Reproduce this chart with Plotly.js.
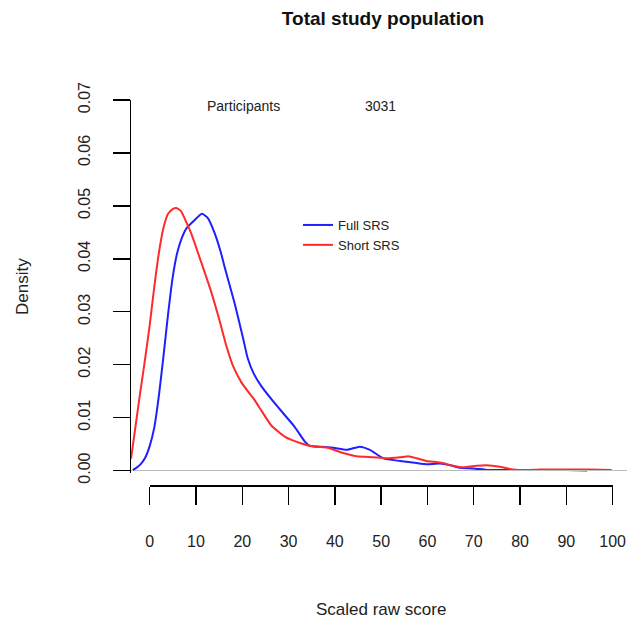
<!DOCTYPE html>
<html>
<head>
<meta charset="utf-8">
<script src="https://cdn.plot.ly/plotly-3.0.1.min.js"></script>
<style>html,body{margin:0;padding:0;background:#fff;}#chart{width:627px;height:621px;}</style>
</head>
<body>
<div id="chart"></div>
<script>
// ---- data ----
const fullX = [-3.6,-3,-2,-1,0,1,2,3,4,5,6,7,8,9.6,11.3,12.6,14.0,15.4,16.2,18.4,20.2,21.2,22.5,24.1,27.7,31.3,33.5,34.5,36.8,39.7,42.6,45.4,47.6,50.5,54.1,57.7,59.8,62.7,64.9,67.0,69.9,72.8,76,80,85,90,94.5];
const fullY = [0.0001,0.0004,0.0011,0.0023,0.0045,0.0080,0.0140,0.0215,0.0295,0.0365,0.0412,0.0440,0.0458,0.0472,0.0485,0.0477,0.0450,0.0412,0.0385,0.0315,0.0250,0.0212,0.0183,0.0160,0.0120,0.0083,0.0055,0.0047,0.0045,0.0043,0.0039,0.0045,0.0039,0.0023,0.0018,0.0014,0.0012,0.0013,0.0010,0.0005,0.0004,0.0001,0.0001,0.0001,0.0001,0.0001,0.0000];

const shortX = [-4,-3,-2,-1,0,1,2,3,4,5,5.8,6.8,8.1,9.0,11.1,13.3,15.0,16.5,18.0,19.8,21.2,22.7,24.1,26.3,29.2,32.8,35.6,38.5,41.8,44.7,48.3,51.2,54.1,55.9,57.7,59.8,62.7,65.6,67.7,70.6,72.8,75.7,78.5,81.4,84.3,90,95.1,99.8];
const shortY = [0.0022,0.0085,0.0148,0.0208,0.0272,0.0345,0.0410,0.0458,0.0485,0.0494,0.0496,0.0490,0.0466,0.0448,0.0395,0.0338,0.0287,0.0238,0.0198,0.0167,0.0150,0.0133,0.0114,0.0085,0.0064,0.0051,0.0045,0.0043,0.0033,0.0027,0.0025,0.0023,0.0025,0.0027,0.0023,0.0018,0.0015,0.0009,0.0006,0.0009,0.0010,0.0007,0.0002,0.0001,0.0002,0.0002,0.0002,0.0001];

const seriesNames = ["Full SRS", "Short SRS"];
const xTicks = [0,10,20,30,40,50,60,70,80,90,100];
const yTicks = [0,0.01,0.02,0.03,0.04,0.05,0.06,0.07];
const titleText = "Total study population";
const xTitle = "Scaled raw score";
const yTitle = "Density";
const infoLabel = "Participants";
const infoValue = "3031";

// ---- layout geometry ----
const W = 627, H = 621;
const mL = 131, mR = 0, mT = 100, mB = 136;
const pw = W - mL - mR, ph = H - mT - mB;
const px = v => (v - mL) / pw;          // page px -> paper x
const py = v => (H - mB - v) / ph;      // page px -> paper y
const FONT = "Liberation Sans, Arial, Helvetica, sans-serif";
const yLow = -0.0004;                   // tiny pad so baseline lines are not clipped
const yZeroPx = 470.5, yPerUnit = 370 / 0.07;

const traces = [
  {x: fullX, y: fullY, name: seriesNames[0], type: "scatter", mode: "lines",
   line: {color: "#1f1fff", width: 2, shape: "spline", smoothing: 0.5}, xaxis: "x", yaxis: "y"},
  {x: shortX, y: shortY, name: seriesNames[1], type: "scatter", mode: "lines",
   line: {color: "#ff2a2a", width: 2, shape: "spline", smoothing: 0.5}, xaxis: "x", yaxis: "y"},
  {x: [], y: [], type: "scatter", mode: "lines", showlegend: false, hoverinfo: "skip", xaxis: "x2", yaxis: "y"}
];

const layout = {
  width: W, height: H,
  margin: {l: mL, r: mR, t: mT, b: mB, pad: 0},
  paper_bgcolor: "#fff", plot_bgcolor: "rgba(0,0,0,0)",
  font: {family: FONT, color: "#222", size: 14},
  title: {text: "<b>" + titleText + "</b>", font: {family: FONT, size: 19, color: "#111"},
          x: 383 / W, xanchor: "center", xref: "container",
          y: 1 - 18 / H, yanchor: "middle", yref: "container"},
  showlegend: true,
  legend: {x: px(298), y: py(210), xanchor: "left", yanchor: "top",
           bgcolor: "rgba(0,0,0,0)", font: {family: FONT, size: 13, color: "#222"},
           tracegroupgap: 0},
  xaxis: {domain: [0, 1], range: [-4, 103.1], visible: false, showgrid: false, zeroline: false, fixedrange: true},
  xaxis2: {domain: [px(149.7), px(612.6)], range: [0, 100], anchor: "free", position: 0,
           showline: true, linecolor: "#000", linewidth: 1.5,
           ticks: "outside", ticklen: 18, tickwidth: 1.5, tickcolor: "#000",
           tickvals: xTicks, ticktext: xTicks.map(String),
           tickfont: {family: FONT, size: 16, color: "#222"},
           ticklabelstandoff: 23,
           showgrid: false, zeroline: false},
  yaxis: {domain: [py(yZeroPx - yLow * yPerUnit), 1], range: [yLow, 0.07], anchor: "x",
          showline: true, linecolor: "#000", linewidth: 1.5,
          ticks: "outside", ticklen: 17, tickwidth: 1.5, tickcolor: "#000",
          tickvals: yTicks, ticktext: yTicks.map(v => v.toFixed(2)),
          tickangle: -90, tickfont: {family: FONT, size: 16, color: "#222"},
          ticklabelstandoff: 16,
          showgrid: false, zeroline: true, zerolinecolor: "#bdbdbd", zerolinewidth: 1.5},
  annotations: [
    {text: infoLabel, xref: "paper", yref: "paper", x: px(243), y: py(106), xanchor: "center", yanchor: "middle",
     showarrow: false, font: {family: FONT, size: 14, color: "#222"}},
    {text: infoValue, xref: "paper", yref: "paper", x: px(380), y: py(106), xanchor: "center", yanchor: "middle",
     showarrow: false, font: {family: FONT, size: 14, color: "#222"}},
    {text: xTitle, xref: "paper", yref: "paper", x: px(381), y: py(609), xanchor: "center", yanchor: "middle",
     showarrow: false, font: {family: FONT, size: 17, color: "#222"}},
    {text: yTitle, xref: "paper", yref: "paper", x: px(22), y: py(287), xanchor: "center", yanchor: "middle",
     textangle: -90, showarrow: false, font: {family: FONT, size: 17, color: "#222"}}
  ]
};

Plotly.newPlot("chart", traces, layout, {staticPlot: true, displayModeBar: false});
</script>
</body>
</html>
